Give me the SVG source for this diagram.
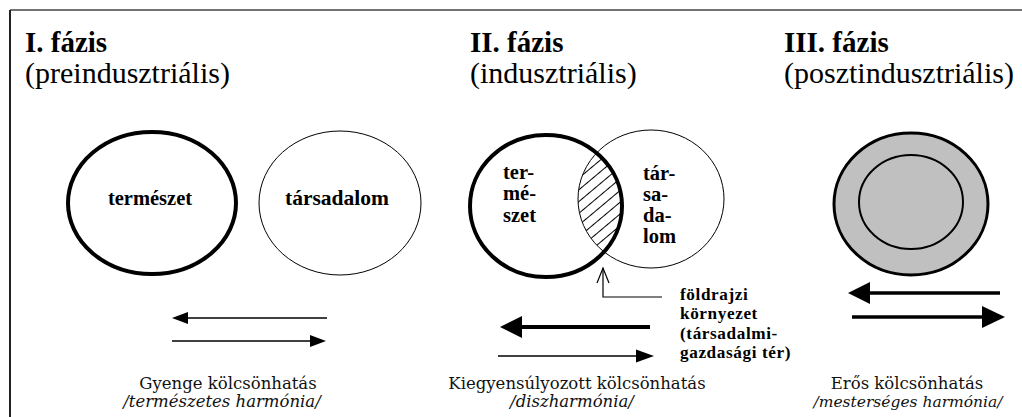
<svg xmlns="http://www.w3.org/2000/svg" width="1022" height="417" viewBox="0 0 1022 417">
<style>
.h1{font-family:'Times New Roman','Liberation Serif',Times,'Noto Serif',serif;font-weight:bold;font-size:29px;fill:#000}
.h2{font-family:'Times New Roman','Liberation Serif',Times,'Noto Serif',serif;font-size:30px;fill:#000}
.lbl{font-family:'Times New Roman','Liberation Serif',Times,'Noto Serif',serif;font-weight:bold;font-size:20.5px;fill:#000}
.note{font-family:'Times New Roman','Liberation Serif',Times,'Noto Serif',serif;font-weight:bold;font-size:17.2px;letter-spacing:0.6px;fill:#000}
.cap{font-family:'DejaVu Serif','Bitstream Vera Serif','Liberation Serif',serif;font-size:16.5px;fill:#111}
.capi{font-family:'DejaVu Serif','Bitstream Vera Serif','Liberation Serif',serif;font-style:italic;font-size:16.5px;fill:#111}
.thick{fill:none;stroke:#000;stroke-width:4}
.thin{fill:none;stroke:#000;stroke-width:1}
.ln{stroke:#000;fill:none}
.head{fill:#000;stroke:none}
</style>
<defs>
<pattern id="hatch" patternUnits="userSpaceOnUse" width="10" height="9" patternTransform="rotate(-40)">
<line x1="0" y1="4.5" x2="10" y2="4.5" stroke="#000" stroke-width="1"/>
</pattern>
<clipPath id="clipA"><ellipse cx="546" cy="206" rx="77" ry="72"/></clipPath>
</defs>
<rect x="0" y="0" width="1022" height="417" fill="#fff"/>
<g id="frame">
<line x1="10" y1="10" x2="1022" y2="10" stroke="#444" stroke-width="1.5"/>
<line x1="10" y1="10" x2="10" y2="417" stroke="#222" stroke-width="2"/>
</g>
<g id="titles">
<text class="h1" x="25" y="52">I. fázis</text>
<text class="h2" x="25" y="83">(preindusztriális)</text>
<text class="h1" x="470" y="52">II. fázis</text>
<text class="h2" x="470" y="83">(indusztriális)</text>
<text class="h1" x="784" y="52">III. fázis</text>
<text class="h2" x="784" y="83">(posztindusztriális)</text>
</g>
<g id="phase1-termeszet">
<ellipse class="thick" cx="152" cy="203" rx="84" ry="71"/>
<text class="lbl" x="150" y="205" text-anchor="middle">természet</text>
</g>
<g id="phase1-tarsadalom">
<ellipse class="thin" cx="340" cy="203" rx="81" ry="72"/>
<text class="lbl" x="337" y="205" text-anchor="middle" style="font-size:21.5px">társadalom</text>
</g>
<g id="phase2-overlap">
<g clip-path="url(#clipA)"><ellipse cx="651" cy="199" rx="73" ry="69" fill="url(#hatch)"/></g>
</g>
<g id="phase2-tarsadalom">
<ellipse class="thin" cx="651" cy="199" rx="73" ry="69"/>
<text class="lbl" x="643" y="180">tár-</text>
<text class="lbl" x="643" y="201">sa-</text>
<text class="lbl" x="643" y="222">da-</text>
<text class="lbl" x="643" y="243">lom</text>
</g>
<g id="phase2-termeszet">
<ellipse class="thick" cx="546" cy="206" rx="76" ry="71"/>
<text class="lbl" x="503" y="179">ter-</text>
<text class="lbl" x="503" y="200">mé-</text>
<text class="lbl" x="503" y="222">szet</text>
</g>
<g id="phase2-foldrajzi">
<text class="note" x="680" y="300">földrajzi</text>
<text class="note" x="680" y="319.3">környezet</text>
<text class="note" x="680" y="338.6">(társadalmi-</text>
<text class="note" x="680" y="357.9">gazdasági tér)</text>
</g>
<g id="phase3-circle">
<ellipse cx="911" cy="204" rx="77" ry="71" fill="#c0c0c0" stroke="#000" stroke-width="3"/>
<ellipse cx="911" cy="202" rx="52" ry="47" fill="#c0c0c0" stroke="#000" stroke-width="2"/>
</g>
<g id="connectors">
<line class="ln" x1="187" y1="318" x2="327" y2="318" stroke-width="1.5"/>
<polygon class="head" points="172,318 188,312 188,324"/>
<line class="ln" x1="172" y1="341" x2="310" y2="341" stroke-width="1.5"/>
<polygon class="head" points="326,341 310,335 310,347"/>
<line class="ln" x1="520" y1="327" x2="650" y2="327" stroke-width="4"/>
<polygon class="head" points="500,327 522,316 522,338"/>
<line class="ln" x1="498" y1="356" x2="638" y2="356" stroke-width="1.5"/>
<polygon class="head" points="654,356 636,349.5 636,362.5"/>
<line class="ln" x1="868" y1="293" x2="1000" y2="293" stroke-width="3.5"/>
<polygon class="head" points="848,293 870,282 870,304"/>
<line class="ln" x1="852" y1="317" x2="984" y2="317" stroke-width="3.5"/>
<polygon class="head" points="1005,317 982,306 982,328"/>
<polyline class="ln" points="662,297 603,297 603,268" stroke-width="1.2"/>
<polyline class="ln" points="597,283 603,268 609,283" stroke-width="1.2"/>
</g>
<g id="captions">
<text class="cap" x="228" y="389" text-anchor="middle">Gyenge kölcsönhatás</text>
<text class="capi" x="222" y="407" text-anchor="middle">/természetes harmónia/</text>
<text class="cap" x="577" y="389" text-anchor="middle">Kiegyensúlyozott kölcsönhatás</text>
<text class="capi" x="572" y="407" text-anchor="middle">/diszharmónia/</text>
<text class="cap" x="907" y="389" text-anchor="middle">Erős kölcsönhatás</text>
<text class="capi" x="908" y="407" text-anchor="middle" style="font-size:15.5px">/mesterséges harmónia/</text>
</g>
</svg>
